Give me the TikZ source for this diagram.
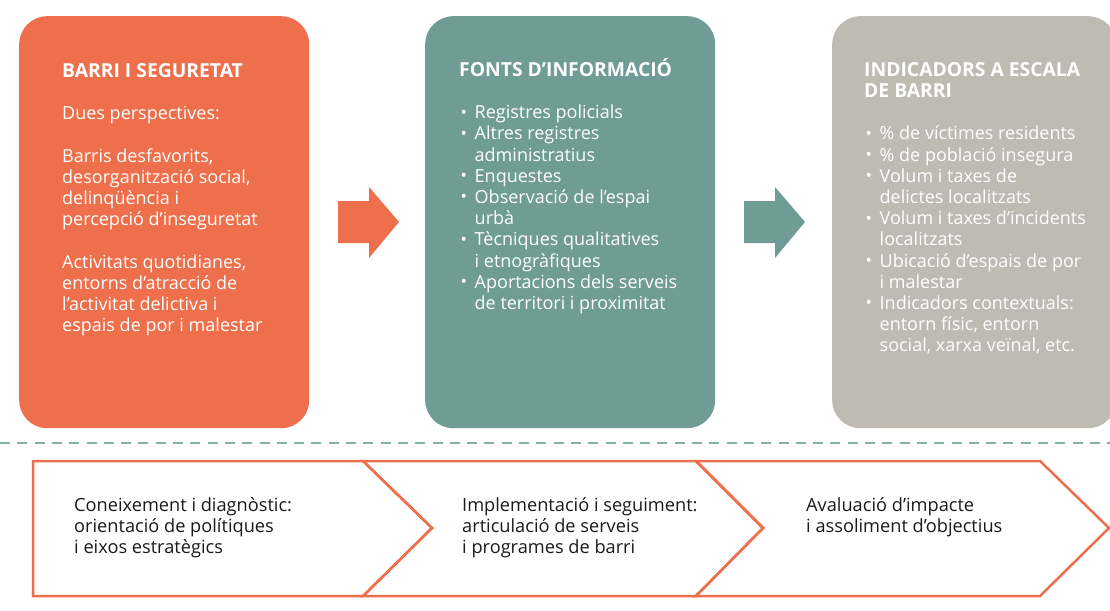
\documentclass[tikz,border=0pt]{standalone}
\usepackage{fontspec}
\setmainfont{Open Sans}
\definecolor{orangeC}{HTML}{EE6F4B}
\definecolor{tealC}{HTML}{6F9C95}
\definecolor{greyC}{HTML}{BEBBB2}
\definecolor{dashC}{HTML}{8AAFA9}
\definecolor{inkC}{HTML}{1A1A1A}
\newcommand{\tops}{\rule{0pt}{19pt}}
\newcommand{\itm}{\makebox[15.5pt][l]{\hspace{1.5pt}\raisebox{0.5pt}{\fontsize{17}{17}\selectfont\textbullet}}}
\newcommand{\cnt}{\hspace*{15.5pt}}
\newcommand{\hd}[1]{{\fontsize{19.3}{21.2}\selectfont\textbf{#1}}}
\newcommand{\tightlines}{\lineskiplimit=-20pt\relax}

\begin{document}
\begin{tikzpicture}[x=1pt,y=-1pt]
        \tikzstyle{every node}+=[inner sep=0pt]
        \tikzstyle{card}=[rounded corners=28pt, anchor=north west, minimum width=290pt, minimum height=412pt]
        \tikzstyle{cardtext}=[anchor=north west, align=left, text=white, font=\fontsize{18}{21.2}\selectfont\tightlines]
        \tikzstyle{steptext}=[anchor=north west, align=left, text=inkC, font=\fontsize{18.2}{21}\selectfont\tightlines]
        \tikzstyle{chevron}=[draw=orangeC, line width=2.5pt, line join=miter]
        \useasboundingbox (0,0) rectangle (1110,610);
        \node [card, fill=orangeC] (barri) at (19,16) {};
        \node [card, fill=tealC] (fonts) at (425,16) {};
        \node [card, fill=greyC, minimum width=284pt] (indic) at (832,16) {};
        \node [cardtext] (barritxt) at (62,58) {\tops\hd{BARRI I SEGURETAT}\\[21.2pt]
                Dues perspectives:\\[21.2pt]
                Barris desfavorits,\\ desorganització social,\\ delinqüència i\\ percepció d’inseguretat\\[21.2pt]
                Activitats quotidianes,\\ entorns d’atracció de\\ l’activitat delictiva i\\ espais de por i malestar};
        \node [cardtext] (fontstxt) at (459,57) {\tops\hd{FONTS D’INFORMACIÓ}\\[21.2pt]
                \itm Registres policials\\ \itm Altres registres\\ \cnt administratius\\ \itm Enquestes\\
                \itm Observació de l’espai\\ \cnt urbà\\ \itm Tècniques qualitatives\\ \cnt i etnogràfiques\\
                \itm Aportacions dels serveis\\ \cnt de territori i proximitat};
        \node [cardtext] (indictxt) at (864,57) {\tops\hd{INDICADORS A ESCALA}\\ \hd{DE BARRI}\\[21.2pt]
                \itm \% de víctimes residents\\ \itm \% de població insegura\\ \itm Volum i taxes de\\ \cnt delictes localitzats\\
                \itm Volum i taxes d'incidents\\ \cnt localitzats\\ \itm Ubicació d’espais de por\\ \cnt i malestar\\
                \itm Indicadors contextuals:\\ \cnt entorn físic, entorn\\ \cnt social, xarxa veïnal, etc.};
        \fill [orangeC] (338,201) -- (369,201) -- (369,187) -- (399,222) -- (369,258) -- (369,243) -- (338,243) -- cycle;
        \fill [tealC] (744,201) -- (775,201) -- (775,187) -- (805,222) -- (775,258) -- (775,243) -- (744,243) -- cycle;
        \draw [dashC, line width=2.8pt, dash pattern=on 10pt off 7.3pt] (0,443) -- (1110,443);
        \draw [chevron] (33,461) -- (363,461) -- (432,528) -- (363,596) -- (33,596) -- cycle;
        \draw [chevron] (363,461) -- (696,461) -- (763,528) -- (696,596) -- (363,596) -- (432,528) -- cycle;
        \draw [chevron] (696,461) -- (1040,461) -- (1109,528) -- (1040,596) -- (696,596) -- (763,528) -- cycle;
        \node [steptext] (diag) at (74,492) {\tops Coneixement i diagnòstic:\\ orientació de polítiques\\ i eixos estratègics};
        \node [steptext] (impl) at (462,492) {\tops Implementació i seguiment:\\ articulació de serveis\\ i programes de barri};
        \node [steptext] (aval) at (806,492) {\tops Avaluació d’impacte\\ i assoliment d’objectius};
\end{tikzpicture}
\end{document}
